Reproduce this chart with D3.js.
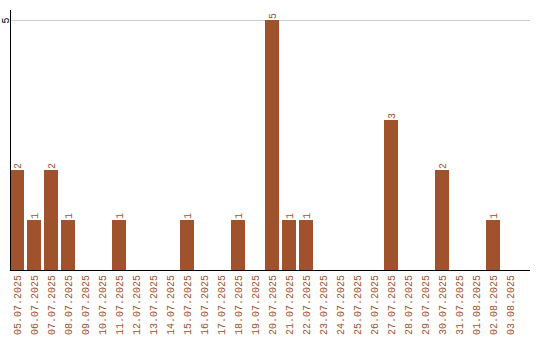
<!DOCTYPE html>
<html>
<head>
<meta charset="utf-8">
<script src="https://cdn.jsdelivr.net/npm/d3@7"></script>
<style>
  html, body { margin: 0; padding: 0; background: #fff; }
  svg { display: block; }
  text { font-family: "Liberation Mono", monospace; font-size: 10px; }
</style>
</head>
<body>
<svg id="chart" width="540" height="340"></svg>
<script>
const dates = [
  "05.07.2025", "06.07.2025", "07.07.2025", "08.07.2025", "09.07.2025",
  "10.07.2025", "11.07.2025", "12.07.2025", "13.07.2025", "14.07.2025",
  "15.07.2025", "16.07.2025", "17.07.2025", "18.07.2025", "19.07.2025",
  "20.07.2025", "21.07.2025", "22.07.2025", "23.07.2025", "24.07.2025",
  "25.07.2025", "26.07.2025", "27.07.2025", "28.07.2025", "29.07.2025",
  "30.07.2025", "31.07.2025", "01.08.2025", "02.08.2025", "03.08.2025"
];
const counts = [2, 1, 2, 1, 0, 0, 1, 0, 0, 0, 1, 0, 0, 1, 0, 5, 1, 1, 0, 0, 0, 0, 3, 0, 0, 2, 0, 0, 1, 0];
const yTicks = [5];

const svg = d3.select("#chart");
const barColor = "#a0522d";
const fontFamily = "Liberation Mono, monospace";
const plotLeft = 10, plotRight = 530, plotTop = 10, baseline = 270;

const x = d3.scaleBand().domain(dates).range([plotLeft, 517]).paddingInner(3 / 17).paddingOuter(0);
const y = d3.scaleLinear().domain([0, 5]).range([baseline, 20]);

// horizontal grid line
svg.append("g").selectAll("line").data(yTicks).join("line")
  .attr("x1", plotLeft).attr("x2", plotRight)
  .attr("y1", d => y(d) + 0.5).attr("y2", d => y(d) + 0.5)
  .attr("stroke", "#cccccc").attr("stroke-width", 1);

// bars
const data = dates.map((d, i) => ({ date: d, value: counts[i] }));
svg.append("g").selectAll("rect").data(data.filter(d => d.value > 0)).join("rect")
  .attr("x", d => x(d.date))
  .attr("width", x.bandwidth())
  .attr("y", d => y(d.value))
  .attr("height", d => baseline - y(d.value))
  .attr("fill", barColor)
  .attr("shape-rendering", "crispEdges");

// value labels
svg.append("g").selectAll("text").data(data.filter(d => d.value > 0)).join("text")
  .attr("transform", d => `translate(${x(d.date) + x.bandwidth() / 2 + 3.5},${y(d.value) - 1}) rotate(-90)`)
  .attr("text-anchor", "start")
  .attr("fill", barColor)
  .text(d => d.value);

// y axis
const yAxis = d3.axisLeft(y).tickValues(yTicks).tickFormat(d3.format("d")).tickSize(0).tickPadding(0);
const yg = svg.append("g").attr("transform", `translate(${plotLeft},0)`).call(yAxis);
yg.select(".domain").remove();
yg.selectAll(".tick text")
  .attr("x", null).attr("dy", null)
  .attr("transform", "translate(-1.5,0) rotate(-90)")
  .attr("text-anchor", "middle")
  .attr("fill", "#000")
  .style("font-family", fontFamily)
  .style("font-size", "10px");
svg.append("line")
  .attr("x1", plotLeft + 0.5).attr("x2", plotLeft + 0.5)
  .attr("y1", plotTop).attr("y2", baseline)
  .attr("stroke", "#000");

// x axis
const xAxis = d3.axisBottom(x).tickSize(0).tickPadding(0);
const xg = svg.append("g").attr("transform", `translate(0,${baseline})`).call(xAxis);
xg.select(".domain").remove();
xg.selectAll(".tick text")
  .attr("y", null).attr("dy", null)
  .attr("transform", "translate(3.5,5) rotate(-90)")
  .attr("text-anchor", "end")
  .attr("fill", barColor)
  .style("font-family", fontFamily)
  .style("font-size", "10px");
svg.append("line")
  .attr("x1", plotLeft).attr("x2", plotRight)
  .attr("y1", baseline + 0.5).attr("y2", baseline + 0.5)
  .attr("stroke", "#000");
</script>
</body>
</html>
